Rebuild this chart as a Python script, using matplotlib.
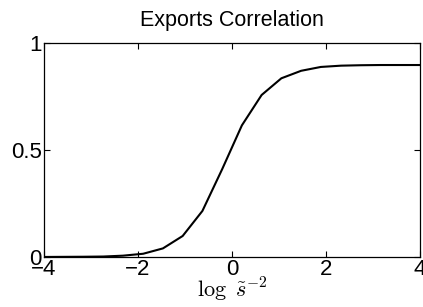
import matplotlib
matplotlib.use('Agg')
import matplotlib.pyplot as plt

plt.rcParams['font.family'] = ['Liberation Sans', 'DejaVu Sans']
plt.rcParams['mathtext.fontset'] = 'cm'

# data
log_s = [-4.0, -3.58, -3.16, -2.74, -2.32, -1.89, -1.47, -1.05, -0.63, -0.21,
         0.21, 0.63, 1.05, 1.47, 1.89, 2.32, 2.74, 3.16, 3.58, 4.0]
corr = [0.0, 0.0005, 0.001, 0.002, 0.006, 0.015, 0.04, 0.098, 0.215, 0.41,
        0.615, 0.757, 0.835, 0.87, 0.888, 0.894, 0.896, 0.897, 0.897, 0.897]
xticks = [-4, -2, 0, 2, 4]
yticks = [0, 0.5, 1]
yticklabels = ['0', '0.5', '1']

fig = plt.figure(figsize=(4.23, 3.07), dpi=100)
ax = fig.add_axes([0.104, 0.163, 0.889, 0.697])
ax.plot(log_s, corr, color='black', lw=1.5)
ax.set_xlim(-4, 4)
ax.set_ylim(0, 1)
ax.set_xticks(xticks)
ax.set_xticklabels([str(t).replace('-', '\u2212') for t in xticks])
ax.set_yticks(yticks)
ax.set_yticklabels(yticklabels)
ax.tick_params(direction='in', top=True, right=True, labelsize=16, length=4, width=0.8, pad=1.5)
for sp in ax.spines.values():
    sp.set_linewidth(0.9)
ax.set_title('Exports Correlation', fontsize=15.5, pad=12)
ax.set_xlabel(r'$\log\ \tilde{s}^{-2}$', fontsize=16, labelpad=-3)

fig.savefig('out.png', dpi=100)
